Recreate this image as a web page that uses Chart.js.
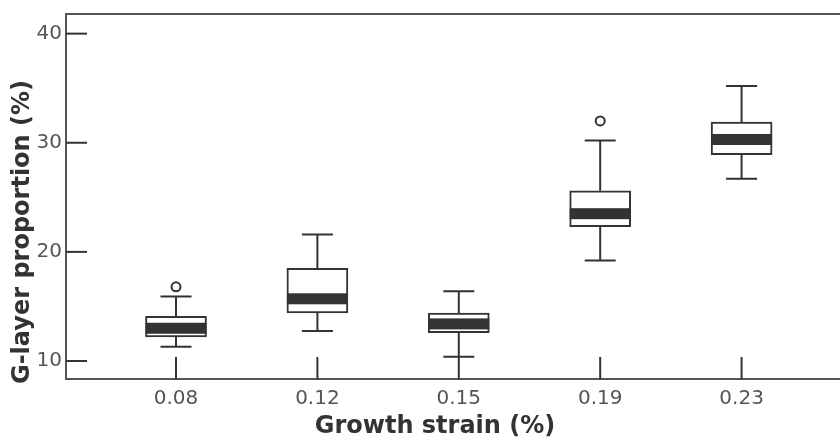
<!DOCTYPE html>
<html>
<head>
<meta charset="utf-8">
<script src="https://cdn.jsdelivr.net/npm/chart.js@4.4.0/dist/chart.umd.min.js"></script>
<style>
  html, body { margin: 0; padding: 0; background: #fff; }
  canvas { display: block; }
</style>
</head>
<body>
<canvas id="boxChart" width="840" height="441"></canvas>
<script>
// Box plot data
const categories = ['0.08', '0.12', '0.15', '0.19', '0.23'];
const whiskerLow = [11.3, 12.75, 10.4, 19.2, 26.7];
const quartile1 = [12.2, 14.4, 12.6, 22.3, 28.9];
const medians = [13.0, 15.7, 13.4, 23.5, 30.3];
const quartile3 = [14.1, 18.5, 14.4, 25.6, 31.9];
const whiskerHigh = [15.9, 21.6, 16.4, 30.2, 35.2];
const outlierCats = [0, 3];
const outlierValues = [16.8, 32.0];
const yTicks = [10, 20, 30, 40];
const xTitle = 'Growth strain (%)';
const yTitle = 'G-layer proportion (%)';

const lineColor = '#333';
const axisColor = '#555';
const boxWidth = 61;
const capWidth = 31;
const bandHeight = 11;

// whiskers, median bands, inward ticks, frame and titles
const boxParts = {
    id: 'boxParts',
    beforeDatasetsDraw(chart) {
        const ctx = chart.ctx;
        const x = chart.scales.x, y = chart.scales.y;
        ctx.save();
        ctx.strokeStyle = lineColor;
        ctx.lineWidth = 2;
        categories.forEach((c, i) => {
            const cx = x.getPixelForValue(i);
            const pairs = [[quartile3[i], whiskerHigh[i]], [quartile1[i], whiskerLow[i]]];
            pairs.forEach(p => {
                const y0 = y.getPixelForValue(p[0]);
                const y1 = y.getPixelForValue(p[1]);
                ctx.beginPath();
                ctx.moveTo(cx, y0);
                ctx.lineTo(cx, y1);
                ctx.moveTo(cx - capWidth / 2, y1);
                ctx.lineTo(cx + capWidth / 2, y1);
                ctx.stroke();
            });
        });
        ctx.restore();
    },
    afterDatasetsDraw(chart) {
        const ctx = chart.ctx;
        const x = chart.scales.x, y = chart.scales.y;
        const area = chart.chartArea;
        ctx.save();
        // median bands
        ctx.fillStyle = lineColor;
        categories.forEach((c, i) => {
            const cx = x.getPixelForValue(i);
            const my = y.getPixelForValue(medians[i]);
            ctx.fillRect(cx - boxWidth / 2, my - bandHeight / 2, boxWidth, bandHeight);
        });
        // top frame line
        ctx.strokeStyle = axisColor;
        ctx.lineWidth = 2;
        ctx.beginPath();
        ctx.moveTo(area.left, area.top);
        ctx.lineTo(area.right, area.top);
        ctx.stroke();
        // ticks pointing into the plot
        ctx.strokeStyle = lineColor;
        y.ticks.forEach(t => {
            const py = y.getPixelForValue(t.value);
            ctx.beginPath();
            ctx.moveTo(area.left, py);
            ctx.lineTo(area.left + 21, py);
            ctx.stroke();
        });
        x.ticks.forEach(t => {
            const px = x.getPixelForValue(t.value);
            ctx.beginPath();
            ctx.moveTo(px, area.bottom);
            ctx.lineTo(px, area.bottom - 22);
            ctx.stroke();
        });
        // axis titles
        ctx.fillStyle = '#333';
        ctx.font = 'bold 24px "DejaVu Sans"';
        ctx.textAlign = 'center';
        ctx.textBaseline = 'middle';
        ctx.fillText(xTitle, 435, 427);
        ctx.translate(23, 232);
        ctx.rotate(-Math.PI / 2);
        ctx.fillText(yTitle, 0, 0);
        ctx.restore();
    }
};

const ctx = document.getElementById('boxChart').getContext('2d');
const boxChart = new Chart(ctx, {
    type: 'bar',
    data: {
        datasets: [{
            type: 'bar',
            data: categories.map((c, i) => ({ x: i, y: [quartile1[i], quartile3[i]] })),
            backgroundColor: '#fff',
            borderColor: lineColor,
            borderWidth: 2,
            borderSkipped: false,
            barThickness: boxWidth
        }, {
            type: 'scatter',
            data: outlierCats.map((c, i) => ({ x: c, y: outlierValues[i] })),
            pointRadius: 4.5,
            pointBorderWidth: 2,
            borderColor: lineColor,
            backgroundColor: '#fff'
        }]
    },
    options: {
        responsive: false,
        animation: false,
        devicePixelRatio: 1,
        layout: {
            autoPadding: false,
            padding: { top: 14, right: 0, bottom: 0, left: 0 }
        },
        plugins: {
            legend: { display: false },
            tooltip: { enabled: false }
        },
        scales: {
            x: {
                type: 'linear',
                min: -0.778,
                max: 4.696,
                offset: false,
                grid: { display: false, drawTicks: false },
                border: { display: true, color: axisColor, width: 2 },
                ticks: {
                    color: '#555',
                    font: { family: 'DejaVu Sans', size: 20 },
                    padding: 8,
                    maxRotation: 0,
                    callback: v => categories[v]
                },
                afterBuildTicks: s => { s.ticks = categories.map((c, i) => ({ value: i })); },
                afterFit: s => {
                    s.height = 62;
                    s.paddingLeft = 0;
                    s.paddingRight = 0;
                }
            },
            y: {
                min: 8.35,
                max: 41.8,
                grid: { display: false, drawTicks: false },
                border: { display: true, color: axisColor, width: 2 },
                ticks: {
                    color: '#555',
                    font: { family: 'DejaVu Sans', size: 20 },
                    padding: 4
                },
                afterBuildTicks: s => { s.ticks = yTicks.map(v => ({ value: v })); },
                afterFit: s => {
                    s.width = 66;
                    s.paddingTop = 0;
                    s.paddingBottom = 0;
                }
            }
        }
    },
    plugins: [boxParts]
});
</script>
</body>
</html>
